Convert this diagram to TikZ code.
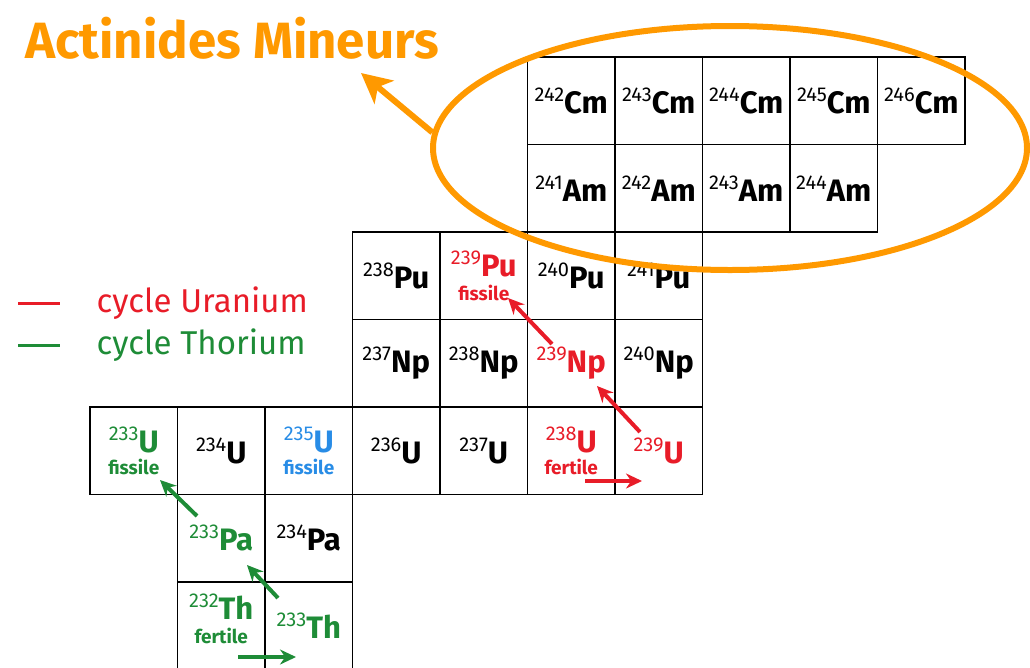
\documentclass[tikz,border=0pt]{standalone}
\usepackage{fontspec}
\setmainfont{Fira Sans}
\usepackage{xcolor}
\usetikzlibrary{arrows.meta,shapes.geometric}
\definecolor{orng}{RGB}{255,153,0}
\definecolor{ured}{RGB}{232,28,40}
\definecolor{thgreen}{RGB}{30,140,55}
\definecolor{ublue}{RGB}{40,140,230}
\newcommand{\iso}[2]{\raisebox{12pt}{\fontsize{20}{20}\selectfont #1}{\bfseries #2}}
\newcommand{\sublbl}[1]{{\fontsize{19}{19}\selectfont\bfseries #1}}

\begin{document}
\begin{tikzpicture}[x=1pt,y=-1pt,
cell/.style={draw,line width=1.4pt,minimum size=87.5pt,inner sep=0pt,align=center,font=\fontsize{31}{28}\selectfont},
arr/.style={-{Stealth[length=16pt,width=15pt]},line width=4pt},
leg/.style={anchor=west,inner sep=0pt,font=\fontsize{33}{33}\selectfont}]
\useasboundingbox (0,0) rectangle (1030,667);
\clip (0,0) rectangle (1030,667);
% black cells
\foreach \m in {242,...,246} \node[cell] (cm\m) at ({133.75+87.5*(\m-237)},100.75) {\iso{\m}{Cm}};
\foreach \m in {241,...,244} \node[cell] (am\m) at ({133.75+87.5*(\m-236)},188.25) {\iso{\m}{Am}};
\foreach \m in {238,240,241} \node[cell] (pu\m) at ({133.75+87.5*(\m-235)},275.75) {\iso{\m}{Pu}};
\foreach \m in {237,238,240} \node[cell] (np\m) at ({133.75+87.5*(\m-234)},363.25) {\iso{\m}{Np}};
\foreach \m in {234,236,237} \node[cell] (u\m) at ({133.75+87.5*(\m-233)},450.75) {\iso{\m}{U}};
\node[cell] (pa234) at (308.75,538.25) {\iso{234}{Pa}};
% uranium cycle
\node[cell,text=ured] (pu239) at (483.75,275.75) {\iso{239}{Pu}\\[-4pt]\sublbl{fissile}};
\node[cell,text=ured] (np239) at (571.25,363.25) {\iso{239}{Np}};
\node[cell,text=ured] (u238) at (571.25,450.75) {\iso{238}{U}\\[-6pt]\sublbl{fertile}};
\node[cell,text=ured] (u239) at (658.75,450.75) {\iso{239}{U}};
\node[cell,text=ublue] (u235) at (308.75,450.75) {\iso{235}{U}\\[-6pt]\sublbl{fissile}};
% thorium cycle
\node[cell,text=thgreen] (u233) at (133.75,450.75) {\iso{233}{U}\\[-6pt]\sublbl{fissile}};
\node[cell,text=thgreen] (pa233) at (221.25,538.25) {\iso{233}{Pa}};
\node[cell,text=thgreen] (th232) at (221.25,625.75) {\iso{232}{Th}\\[-4pt]\sublbl{fertile}\\[-14pt]};
\node[cell,text=thgreen] (th233) at (308.75,625.75) {\iso{233}{Th}};
\coordinate (r1) at (640,432); \coordinate (r2) at (597,386);
\coordinate (r3) at (552,344); \coordinate (r4) at (508,298);
\coordinate (r5) at (585,481); \coordinate (r6) at (642,481);
\coordinate (g1) at (197,516); \coordinate (g2) at (160,480);
\coordinate (g3) at (278,598); \coordinate (g4) at (247,565);
\coordinate (g5) at (238,657); \coordinate (g6) at (296,657);
\draw[arr,ured] (r1)--(r2); \draw[arr,ured] (r3)--(r4); \draw[arr,ured] (r5)--(r6);
\draw[arr,thgreen] (g1)--(g2); \draw[arr,thgreen] (g3)--(g4); \draw[arr,thgreen] (g5)--(g6);
% legend
\coordinate (lu) at (18,303); \coordinate (lt) at (18,345);
\draw[ured,line width=3pt] (lu)--++(42,0) node[leg,text=ured] (legu) at (95,303) {cycle Uranium};
\draw[thgreen,line width=3pt] (lt)--++(42,0) node[leg,text=thgreen] (legt) at (95,345) {cycle Thorium};
% minor actinides
\node[draw=orng,line width=6pt,ellipse,minimum width=594pt,minimum height=244pt,inner sep=0pt] (ma) at (730,148) {};
\node[anchor=west,inner sep=0pt,text=orng,font=\fontsize{51}{51}\selectfont\bfseries] (titre) at (25,38) {Actinides Mineurs};
\coordinate (tip) at (361,73);
\draw[-{Stealth[length=30pt,width=30pt,inset=8pt]},orng,line width=6pt] (ma.177)--(tip);
\end{tikzpicture}
\end{document}
